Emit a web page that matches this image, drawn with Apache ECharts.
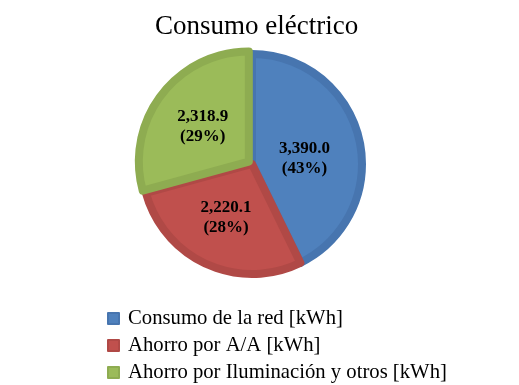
<!DOCTYPE html>
<html>
<head>
<meta charset="utf-8">
<script src="https://cdn.jsdelivr.net/npm/echarts@6/dist/echarts.min.js"></script>
<style>html,body{margin:0;padding:0;background:#fff}#c{width:519px;height:385px}</style>
</head>
<body>
<div id="c"></div>
<script>
var categories = ['Consumo de la red [kWh]', 'Ahorro por A/A [kWh]', 'Ahorro por Iluminación y otros [kWh]'];
var values = [3390.0, 2220.1, 2318.9];
var colors = ['#4F81BD', '#C0504D', '#9BBB59'];
var borderColors = ['#4775AF', '#B04946', '#8EAC51'];
var labelOffsets = [[-4, 8], [-2, 1], [-2, 3]];

var chart = echarts.init(document.getElementById('c'));
var data = categories.map(function (n, i) {
  return {
    name: n,
    value: values[i],
    selected: i === 2,
    label: { offset: labelOffsets[i] },
    itemStyle: { color: colors[i], borderColor: borderColors[i], borderWidth: 8 }
  };
});
chart.setOption({
  animation: false,
  title: {
    text: 'Consumo eléctrico',
    left: 155,
    top: 13,
    padding: 0,
    textStyle: { fontFamily: 'Liberation Serif', fontSize: 27, fontWeight: 'normal', color: '#000' }
  },
  legend: {
    orient: 'vertical',
    left: 107,
    top: 308,
    padding: 0,
    itemWidth: 11,
    itemHeight: 11,
    itemGap: 6,
    icon: 'rect',
    data: categories,
    textStyle: { fontFamily: 'Liberation Serif', fontSize: 20.7, lineHeight: 20, color: '#000', padding: [0, 0, 0, 4] }
  },
  series: [{
    type: 'pie',
    center: [252, 164],
    radius: [0, 110],
    startAngle: 90,
    selectedMode: 'single',
    selectedOffset: 4,
    emphasis: { disabled: true },
    label: {
      show: true,
      position: 'inside',
      fontFamily: 'Liberation Serif',
      fontSize: 17,
      fontWeight: 'bold',
      lineHeight: 20,
      color: '#000',
      formatter: function (p) {
        return p.value.toLocaleString('en-US', { minimumFractionDigits: 1, maximumFractionDigits: 1 }) + '\n(' + Math.round(p.percent) + '%)';
      }
    },
    labelLine: { show: false },
    data: data
  }]
});
</script>
</body>
</html>
